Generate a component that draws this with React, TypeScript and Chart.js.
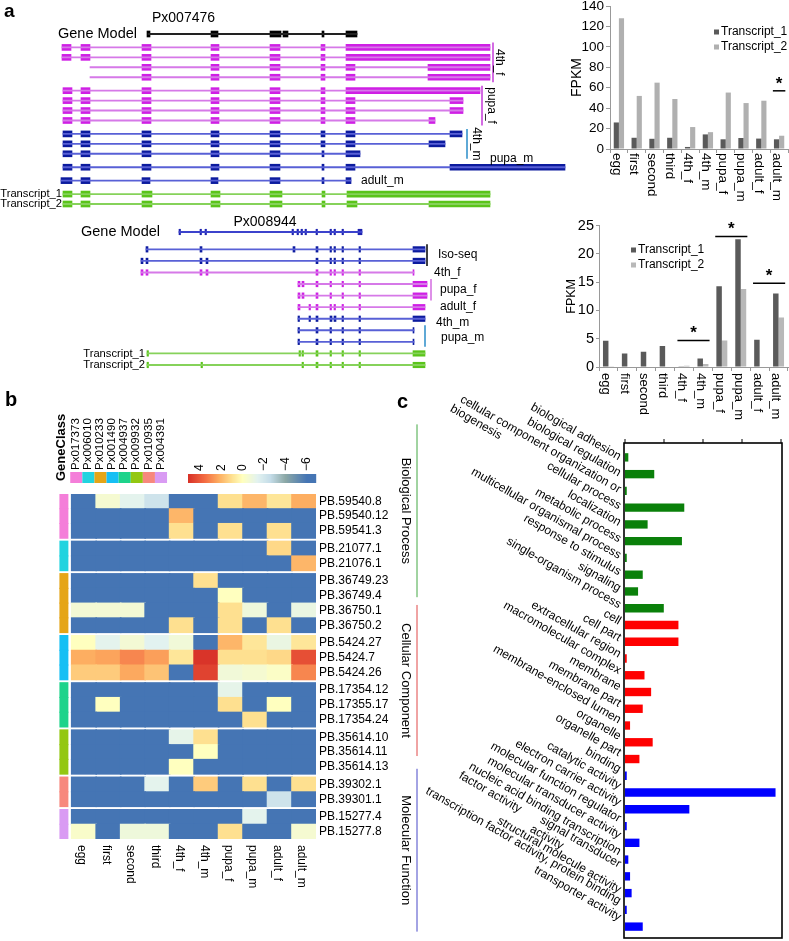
import React, { useEffect, useRef } from 'react';
import { Chart, registerables } from 'chart.js';
Chart.register(...registerables);

const FONT = '"Liberation Sans", Arial, Helvetica, sans-serif';
Chart.defaults.font.family = FONT;
Chart.defaults.color = '#000';

// ---------------- data: panel a bar charts ----------------
const stages = ['egg', 'first', 'second', 'third', '4th_f', '4th_m', 'pupa_f', 'pupa_m', 'adult_f', 'adult_m'];
const seriesNames = ['Transcript_1', 'Transcript_2'];
const px007476Transcript1 = [26, 11, 10, 11, 2, 14.3, 9.5, 10.8, 10.2, 9.5];
const px007476Transcript2 = [128, 52, 65, 49, 21.5, 16.5, 55.3, 45, 47.3, 13];
const px007476Sig = [{ from: 'adult_m', to: 'adult_m', value: 57 }];
const px008944Transcript1 = [4.65, 2.4, 2.7, 3.7, 0.05, 1.5, 14.3, 22.6, 4.8, 13];
const px008944Transcript2 = [0.05, 0.1, 0.1, 0.1, 0.2, 0.55, 4.7, 13.8, 0.1, 8.75];
const px008944Sig = [
  { from: '4th_f', to: '4th_m', value: 4.7 },
  { from: 'pupa_f', to: 'pupa_m', value: 23.1 },
  { from: 'adult_f', to: 'adult_m', value: 14.8 },
];

// ---------------- data: gene models (gene coordinate units) ----------------
type Exon = [number, number];
type Track = { name: string; group: string; kind: string; span: Exon; exons: Exon[] };

const px007476Tracks: Track[] = [
  { name: '', group: 'model', kind: 'model', span: [148, 357], exons: [[147, 150], [211, 218], [270, 281], [283, 288], [322, 324], [346, 357]] },
  { name: '', group: '4th_f', kind: 'female', span: [62, 490], exons: [[62, 71], [81, 90], [142, 151], [211, 219], [270, 280], [321, 325], [346, 490]] },
  { name: '', group: '4th_f', kind: 'female', span: [62, 490], exons: [[62, 71], [81, 90], [142, 151], [211, 219], [270, 280], [321, 325], [346, 490]] },
  { name: '', group: '4th_f', kind: 'female', span: [90, 490], exons: [[142, 151], [211, 219], [270, 280], [321, 325], [346, 355], [428, 490]] },
  { name: '', group: '4th_f', kind: 'female', span: [90, 490], exons: [[142, 151], [211, 219], [270, 280], [321, 325], [346, 355], [428, 490]] },
  { name: '', group: 'pupa_f', kind: 'female', span: [63, 480], exons: [[63, 72], [81, 90], [142, 151], [211, 219], [270, 280], [321, 325], [346, 480]] },
  { name: '', group: 'pupa_f', kind: 'female', span: [63, 463], exons: [[63, 72], [81, 90], [142, 151], [211, 219], [270, 280], [321, 325], [346, 355], [450, 463]] },
  { name: '', group: 'pupa_f', kind: 'female', span: [63, 463], exons: [[63, 72], [81, 90], [142, 151], [211, 219], [270, 280], [321, 325], [346, 355], [450, 463]] },
  { name: '', group: 'pupa_f', kind: 'female', span: [63, 435], exons: [[63, 72], [81, 90], [142, 151], [211, 219], [270, 280], [321, 325], [346, 355], [429, 435]] },
  { name: '', group: '4th_m', kind: 'male', span: [63, 462], exons: [[63, 72], [81, 90], [142, 151], [211, 219], [270, 280], [321, 325], [346, 355], [450, 462]] },
  { name: '', group: '4th_m', kind: 'male', span: [63, 445], exons: [[63, 72], [81, 90], [142, 151], [211, 219], [270, 280], [321, 325], [346, 355], [429, 445]] },
  { name: '', group: '4th_m', kind: 'male', span: [63, 360], exons: [[63, 72], [81, 90], [142, 151], [211, 219], [270, 280], [322, 324], [346, 360]] },
  { name: '', group: 'pupa_m', kind: 'male', span: [63, 565], exons: [[63, 72], [81, 90], [142, 151], [211, 219], [270, 280], [322, 324], [346, 355], [450, 565]] },
  { name: '', group: 'adult_m', kind: 'male', span: [61, 351], exons: [[61, 72], [81, 90], [142, 150], [211, 218], [270, 280], [322, 324], [346, 351]] },
  { name: 'Transcript_1', group: 'tx', kind: 'transcript', span: [63, 490], exons: [[63, 72], [81, 90], [142, 152], [211, 220], [270, 282], [322, 325], [347, 490]] },
  { name: 'Transcript_2', group: 'tx', kind: 'transcript', span: [63, 490], exons: [[63, 72], [81, 90], [142, 152], [211, 220], [270, 282], [322, 325], [347, 357], [429, 490]] },
];

const px008944Tracks: Track[] = [
  { name: '', group: 'model', kind: 'modelBlue', span: [179, 362], exons: [[179, 180.5], [200, 201.5], [205, 206.5], [292, 293.5], [297, 298.5], [301, 302.5], [305, 306.5], [316, 317.5], [330, 331.5], [334, 335.5], [342, 343.5], [358, 362]] },
  { name: '', group: 'Iso-seq', kind: 'male', span: [146, 425], exons: [[146, 148], [200, 202], [293, 295], [316, 318], [330, 331.5], [334, 335.5], [342, 343.5], [359, 360.5], [413, 425]] },
  { name: '', group: 'Iso-seq', kind: 'male', span: [141, 425], exons: [[141, 143], [146, 148], [200, 202], [206, 208], [316, 318], [330, 331.5], [334, 335.5], [342, 343.5], [359, 360.5], [413, 425]] },
  { name: '', group: '4th_f', kind: 'female', span: [141, 414], exons: [[141, 143], [146, 148], [200, 202], [206, 208], [316, 318], [330, 331.5], [334, 335.5], [342, 343.5], [359, 360.5], [413, 414]] },
  { name: '', group: 'pupa_f', kind: 'female', span: [298, 427], exons: [[298, 300], [302, 304], [316, 318], [330, 331.5], [342, 343.5], [359, 360.5], [413, 427]] },
  { name: '', group: 'pupa_f', kind: 'female', span: [298, 427], exons: [[298, 300], [302, 304], [316, 318], [330, 331.5], [342, 343.5], [359, 360.5], [413, 427]] },
  { name: '', group: 'adult_f', kind: 'female', span: [298, 425], exons: [[298, 300], [309, 310.5], [316, 318], [330, 331.5], [334, 335.5], [342, 343.5], [359, 360.5], [413, 425]] },
  { name: '', group: '4th_m', kind: 'male', span: [298, 425], exons: [[298, 299.5], [309, 310.5], [316, 318], [330, 332], [334, 336], [342, 343.5], [359, 360.5], [413, 425]] },
  { name: '', group: 'pupa_m', kind: 'male', span: [298, 414], exons: [[298, 299.5], [316, 318], [330, 331.5], [342, 343.5], [359, 360.5], [413, 414]] },
  { name: '', group: 'pupa_m', kind: 'male', span: [298, 414], exons: [[298, 299.5], [316, 318], [330, 331.5], [342, 343.5], [359, 360.5], [413, 414]] },
  { name: 'Transcript_1', group: 'tx', kind: 'transcript', span: [147, 425], exons: [[147, 148.5], [299, 300.5], [302, 303.5], [316, 318], [330, 331.5], [342, 343.5], [359, 360.5], [413, 425]] },
  { name: 'Transcript_2', group: 'tx', kind: 'transcript', span: [147, 425], exons: [[147, 148.5], [201, 202.5], [302, 303.5], [316, 318], [330, 331.5], [342, 343.5], [359, 360.5], [413, 425]] },
];

// ---------------- data: heatmap ----------------
const hmRows = ['PB.59540.8', 'PB.59540.12', 'PB.59541.3', 'PB.21077.1', 'PB.21076.1', 'PB.36749.23', 'PB.36749.4', 'PB.36750.1', 'PB.36750.2', 'PB.5424.27', 'PB.5424.7', 'PB.5424.26', 'PB.17354.12', 'PB.17355.17', 'PB.17354.24', 'PB.35614.10', 'PB.35614.11', 'PB.35614.13', 'PB.39302.1', 'PB.39301.1', 'PB.15277.4', 'PB.15277.8'];
const hmRowClass = [0, 0, 0, 1, 1, 2, 2, 2, 2, 3, 3, 3, 4, 4, 4, 5, 5, 5, 6, 6, 7, 7];
const geneClasses = ['Px017373', 'Px006010', 'Px010233', 'Px001490', 'Px004937', 'Px009932', 'Px010935', 'Px004391'];
const hmValues = [
  [-6, -0.5, -1.3, -2.2, -6, -6, 1, 2, 0.8, 2.2],
  [-6, -6, -6, -6, 2, -6, -6, -6, -6, -6],
  [-6, -6, -6, -6, 1, -6, 1, -6, 1, -6],
  [-6, -6, -6, -6, -6, -6, -6, -6, 1.2, -6],
  [-6, -6, -6, -6, -6, -6, -6, -6, -6, 2],
  [-6, -6, -6, -6, -6, 1, -6, -6, -6, -6],
  [-6, -6, -6, -6, -6, -6, 0, -6, -6, -6],
  [-0.6, -0.6, -0.6, -6, -6, -6, 1, -0.8, -6, -1],
  [-6, -6, -6, -6, 1, -6, 1, -6, 1, -6],
  [0, -1.3, -0.6, -1.4, -0.7, -6, 2, 0.8, -1, 0.8],
  [2.2, 2.4, 3, 2.5, 0.8, 5, 1, 1, 1.2, 4.3],
  [1.5, 1.5, 2.3, 1.7, -6, 4.6, -0.7, -0.5, -0.2, 3],
  [-6, -6, -6, -6, -6, -6, -1.2, -6, -6, -6],
  [-6, 0, -6, -6, -6, -6, 1, -6, 0, -6],
  [-6, -6, -6, -6, -6, -6, -6, 1, -6, -6],
  [-6, -6, -6, -6, -1.2, 1, -6, -6, -6, -6],
  [-6, -6, -6, -6, -6, 0, -6, -6, -6, -6],
  [-6, -6, -6, -6, 0, -6, -6, -6, -6, -6],
  [-6, -6, -6, -1.3, -6, 1.5, -6, 1, -6, 1],
  [-6, -6, -6, -6, -6, -6, -6, -6, -2.2, -6],
  [-6, -6, -6, -6, -6, -6, -6, -1.3, -6, -6],
  [-0.3, -6, -0.8, -0.8, -6, -6, 1, -6, -6, -0.5],
];
const hmScaleTicks = [4, 2, 0, -2, -4, -6];

// ---------------- data: GO ----------------
const bpTerms = ['biological adhesion', 'biological regulation', 'cellular component organization or\nbiogenesis', 'cellular process', 'localization', 'metabolic process', 'multicellular organismal process', 'response to stimulus', 'signaling', 'single-organism process'];
const bpCounts = [0.85, 7.5, 0.45, 15.2, 5.8, 14.6, 0.45, 4.55, 3.35, 9.95];
const ccTerms = ['cell', 'cell part', 'extracellular region', 'macromolecular complex', 'membrane', 'membrane part', 'membrane-enclosed lumen', 'organelle', 'organelle part'];
const ccCounts = [13.7, 13.7, 0.45, 5.0, 6.7, 4.55, 1.3, 7.1, 3.7];
const mfTerms = ['binding', 'catalytic activity', 'electron carrier activity', 'molecular function regulator', 'molecular transducer activity', 'nucleic acid binding transcription\nfactor activity', 'signal transducer\nactivity', 'structural molecule activity', 'transcription factor activity, protein binding', 'transporter activity'];
const mfCounts = [0.45, 38.6, 16.5, 0.45, 3.7, 0.85, 1.3, 1.7, 0.45, 4.55];
const goTicks = [0, 10, 20, 30, 40];

// ---------------- helpers ----------------
function text(ctx: CanvasRenderingContext2D, s: string, x: number, y: number, o: any = {}) {
  ctx.save();
  ctx.translate(x, y);
  if (o.rot) ctx.rotate((o.rot * Math.PI) / 180);
  ctx.font = `${o.bold ? 'bold ' : ''}${o.size || 12}px ${FONT}`;
  ctx.fillStyle = o.color || '#000';
  ctx.textAlign = o.align || 'left';
  ctx.textBaseline = o.base || 'middle';
  ctx.fillText(s, 0, 0);
  ctx.restore();
}
function vline(ctx: CanvasRenderingContext2D, x: number, y1: number, y2: number, color: string, w = 1) {
  ctx.save();
  ctx.strokeStyle = color;
  ctx.lineWidth = w;
  ctx.beginPath();
  ctx.moveTo(x, y1);
  ctx.lineTo(x, y2);
  ctx.stroke();
  ctx.restore();
}

function ChartBox({ left, top, width, height, make }: any) {
  const ref = useRef<HTMLCanvasElement>(null);
  useEffect(() => {
    const c = new Chart(ref.current as HTMLCanvasElement, make());
    return () => c.destroy();
  }, []);
  return <canvas ref={ref} width={width} height={height} style={{ position: 'absolute', left, top, width, height }} />;
}

// ---------------- expression bar charts ----------------
function barConfig(p: any) {
  const annot = {
    id: 'annot',
    afterDraw(chart: any) {
      const { ctx, chartArea } = chart;
      const xs = chart.scales.x, ys = chart.scales.y;
      const w = xs.getPixelForValue(1) - xs.getPixelForValue(0);
      stages.forEach((s, i) => text(ctx, s, xs.getPixelForValue(i) - 2.5, chartArea.bottom + p.labelGap, { size: p.labelSize, rot: 90 }));
      ['#5a5a5a', p.t2Color].forEach((c, i) => {
        ctx.fillStyle = c;
        ctx.fillRect(p.legend.x, p.legend.y + i * p.legend.dy - 2.5, 5, 5);
        text(ctx, seriesNames[i], p.legend.x + 7, p.legend.y + i * p.legend.dy, { size: 12 });
      });
      p.sig.forEach((s: any) => {
        const x1 = xs.getPixelForValue(stages.indexOf(s.from)) - 0.35 * w;
        const x2 = xs.getPixelForValue(stages.indexOf(s.to)) + 0.35 * w;
        const y = ys.getPixelForValue(s.value);
        ctx.save();
        ctx.strokeStyle = '#000';
        ctx.lineWidth = 1.5;
        ctx.beginPath();
        ctx.moveTo(x1, y);
        ctx.lineTo(x2, y);
        ctx.stroke();
        ctx.restore();
        text(ctx, '*', (x1 + x2) / 2, y - 7, { size: 17, bold: true, align: 'center' });
      });
    },
  };
  return {
    type: 'bar',
    data: {
      labels: stages,
      datasets: [
        { label: seriesNames[0], data: p.t1, backgroundColor: '#5a5a5a', categoryPercentage: 0.58, barPercentage: 1 },
        { label: seriesNames[1], data: p.t2, backgroundColor: p.t2Color, categoryPercentage: 0.58, barPercentage: 1 },
      ],
    },
    options: {
      animation: false,
      responsive: false,
      layout: { padding: { left: 0, right: 1, top: 0, bottom: 0 } },
      plugins: { legend: { display: false }, tooltip: { enabled: false } },
      scales: {
        x: {
          grid: { display: true, drawOnChartArea: false, tickLength: 4, color: '#999' },
          border: { color: '#999' },
          ticks: { display: false },
          afterFit: (s: any) => { s.height = p.xHeight; },
        },
        y: {
          min: 0,
          max: p.max,
          ticks: { stepSize: p.step, font: { size: p.tickSize }, color: '#000', padding: 2 },
          grid: { drawOnChartArea: false, tickLength: p.tickLen, color: '#999' },
          border: { color: '#999' },
          title: { display: true, text: 'FPKM', font: { size: p.titleSize }, color: '#000', padding: { top: p.titlePad, bottom: 0 } },
          afterFit: (s: any) => { s.width = p.yWidth; },
        },
      },
    },
    plugins: [annot],
  };
}

// ---------------- gene model charts ----------------
const kindColors: any = {
  model: { exon: '#000000', line: '#222222' },
  modelBlue: { exon: '#1d22b0', line: '#3c43cc' },
  female: { exon: '#cf1fe5', line: '#d679e8' },
  male: { exon: '#0c1b9e', line: '#5860d6' },
  transcript: { exon: '#5ac41a', line: '#86d25a' },
};

function geneConfig(tracks: Track[], p: any) {
  const lanes: number[] = [];
  let lane = 0;
  tracks.forEach((t, i) => {
    if (i > 0) {
      lane += 1;
      if (t.group !== tracks[i - 1].group) lane += tracks[i - 1].group === 'model' ? p.modelGap : p.groupGap;
    }
    lanes.push(lane);
  });
  const last = lanes[lanes.length - 1];
  const ppl = (p.lastPx - p.firstPx) / last;
  const yMin = -p.firstPx / ppl;
  const yMax = yMin + p.height / ppl;
  const introns = tracks.map((t, i) => ({ x: t.span, y: lanes[i], c: kindColors[t.kind].line }));
  const exons: any[] = [];
  tracks.forEach((t, i) => t.exons.forEach((e) => exons.push({ x: e, y: lanes[i], c: kindColors[t.kind].exon })));

  const annot = {
    id: 'geneAnnot',
    afterDraw(chart: any) {
      const { ctx } = chart;
      const xs = chart.scales.x, ys = chart.scales.y;
      if (p.letter) text(ctx, p.letter, 4, 12, { size: 19, bold: true });
      p.ann.forEach((a: any) => {
        const rows = tracks.map((t, i) => (t.group === a.key || t.name === a.key ? i : -1)).filter((i) => i >= 0);
        const y1 = ys.getPixelForValue(lanes[rows[0]]);
        const y2 = ys.getPixelForValue(lanes[rows[rows.length - 1]]);
        const cy = (y1 + y2) / 2 + (a.dy || 0);
        if (a.bracket) vline(ctx, xs.getPixelForValue(a.bracket.x), y1 - 5, y2 + 5, a.bracket.color, 1.5);
        text(ctx, a.text, xs.getPixelForValue(a.x), cy, {
          size: a.size || 12,
          align: a.rot ? 'center' : a.align || 'left',
          rot: a.rot || 0,
        });
      });
    },
  };

  return {
    type: 'bar',
    data: {
      datasets: [
        { data: introns, barThickness: 1.2, backgroundColor: (c: any) => (c.raw ? c.raw.c : '#000'), stack: 's', borderWidth: 0 },
        { data: exons, barThickness: p.exonH, backgroundColor: (c: any) => (c.raw ? c.raw.c : '#000'), stack: 's', borderWidth: 0 },
      ],
    },
    options: {
      indexAxis: 'y',
      animation: false,
      responsive: false,
      layout: { padding: 0 },
      plugins: { legend: { display: false }, tooltip: { enabled: false } },
      scales: {
        x: { type: 'linear', min: 0, max: p.width, display: false, stacked: false },
        y: { type: 'linear', min: yMin, max: yMax, reverse: true, display: false, stacked: true, offset: false },
      },
    },
    plugins: [annot],
  };
}

const ann1 = [
  { key: 'model', text: 'Gene Model', x: 137, align: 'right', size: 14.5 },
  { key: 'model', text: 'Px007476', x: 152, dy: -16, size: 14 },
  { key: '4th_f', text: '4th_f', x: 499, rot: 90, bracket: { x: 493, color: '#c43ad8' } },
  { key: 'pupa_f', text: 'pupa_f', x: 491, rot: 90, bracket: { x: 482, color: '#c43ad8' } },
  { key: '4th_m', text: '4th_m', x: 476, rot: 90, bracket: { x: 467, color: '#2a8cc8' } },
  { key: 'pupa_m', text: 'pupa_m', x: 490, dy: -9 },
  { key: 'adult_m', text: 'adult_m', x: 361 },
  { key: 'Transcript_1', text: 'Transcript_1', x: 62, align: 'right', size: 11.2 },
  { key: 'Transcript_2', text: 'Transcript_2', x: 62, align: 'right', size: 11.2 },
];
const ann2 = [
  { key: 'model', text: 'Gene Model', x: 160, align: 'right', size: 14.5 },
  { key: 'model', text: 'Px008944', x: 265, dy: -10, size: 14, align: 'center' },
  { key: 'Iso-seq', text: 'Iso-seq', x: 438, bracket: { x: 427, color: '#000' } },
  { key: '4th_f', text: '4th_f', x: 434 },
  { key: 'pupa_f', text: 'pupa_f', x: 440, bracket: { x: 431, color: '#d36be0' } },
  { key: 'adult_f', text: 'adult_f', x: 440 },
  { key: '4th_m', text: '4th_m', x: 436, dy: 4 },
  { key: 'pupa_m', text: 'pupa_m', x: 441, dy: 2, bracket: { x: 425, color: '#2a8cc8' } },
  { key: 'Transcript_1', text: 'Transcript_1', x: 145, align: 'right', size: 11.2 },
  { key: 'Transcript_2', text: 'Transcript_2', x: 145, align: 'right', size: 11.2 },
];

// ---------------- heatmap ----------------
const classColors = ['#f47ed9', '#22d3df', '#e5a517', '#16bff4', '#1ed38b', '#93c712', '#f7887d', '#d99bf3'];
const cmapStops: [number, number[]][] = [
  [5.1, [215, 48, 39]],
  [3.5, [244, 109, 67]],
  [2.2, [253, 174, 97]],
  [1.0, [254, 224, 144]],
  [0, [255, 255, 191]],
  [-1.4, [226, 242, 240]],
  [-2.6, [196, 220, 232]],
  [-4.0, [140, 168, 166]],
  [-6.0, [69, 117, 180]],
  [-6.9, [69, 117, 180]],
];
const CB_MAX = 5.1, CB_MIN = -6.85;
function cmap(v: number) {
  if (v >= cmapStops[0][0]) return `rgb(${cmapStops[0][1].join(',')})`;
  for (let i = 0; i < cmapStops.length - 1; i++) {
    const [a, ca] = cmapStops[i];
    const [b, cb] = cmapStops[i + 1];
    if (v <= a && v >= b) {
      const t = (a - v) / (a - b);
      return `rgb(${ca.map((x, k) => Math.round(x + (cb[k] - x) * t)).join(',')})`;
    }
  }
  return `rgb(${cmapStops[cmapStops.length - 1][1].join(',')})`;
}

function heatmapConfig() {
  const GAP = 0.2;
  const lanes = hmRowClass.map((g, i) => i + g * GAP);
  const yMin = -0.5, yMax = lanes[lanes.length - 1] + 0.5;
  const plotH = 345;
  const rowPx = plotH / (yMax - yMin);
  const cells: any[] = [];
  hmValues.forEach((row, r) => row.forEach((v, c) => cells.push({ x: [c, c + 1.04], y: lanes[r], c: cmap(v) })));
  const classBars = hmRowClass.map((g, r) => ({ x: [-0.47, -0.13], y: lanes[r], c: classColors[g] }));
  const annot = {
    id: 'hmAnnot',
    afterDraw(chart: any) {
      const { ctx, chartArea } = chart;
      const xs = chart.scales.x, ys = chart.scales.y;
      text(ctx, 'b', 5, 10, { size: 20, bold: true });
      hmRows.forEach((r, i) => text(ctx, r, chartArea.right + 3, ys.getPixelForValue(lanes[i]), { size: 12 }));
      stages.forEach((s, c) => text(ctx, s, xs.getPixelForValue(c + 0.5) - 2, chartArea.bottom + 6, { size: 12, rot: 90 }));
      const sqL = xs.getPixelForValue(0) - 1, sqW = 12.1;
      geneClasses.forEach((g, k) => {
        ctx.fillStyle = classColors[k];
        ctx.fillRect(sqL + k * sqW, 82, sqW, 11);
        text(ctx, g, sqL + k * sqW + sqW / 2 - 0.5, 80, { size: 11.5, rot: -90 });
      });
      text(ctx, 'GeneClass', 61, 91, { size: 13, bold: true, rot: -90 });
      const cbL = 188, cbW = 128;
      for (let i = 0; i < cbW; i++) {
        ctx.fillStyle = cmap(CB_MAX - ((i + 0.5) / cbW) * (CB_MAX - CB_MIN));
        ctx.fillRect(cbL + i, 84, 1.2, 9);
      }
      hmScaleTicks.forEach((v) => {
        const x = cbL + ((CB_MAX - v) / (CB_MAX - CB_MIN)) * cbW;
        text(ctx, v < 0 ? '\u2212' + Math.abs(v) : String(v), x, 81, { size: 12, rot: -90 });
      });
    },
  };
  return {
    type: 'bar',
    data: {
      datasets: [
        { data: cells, barThickness: rowPx + 0.4, backgroundColor: (c: any) => (c.raw ? c.raw.c : '#000'), stack: 's', borderWidth: 0 },
        { data: classBars, barThickness: rowPx + 0.4, backgroundColor: (c: any) => (c.raw ? c.raw.c : '#000'), stack: 's', borderWidth: 0 },
      ],
    },
    options: {
      indexAxis: 'y',
      animation: false,
      responsive: false,
      layout: { padding: { left: 59, right: 84, top: 104, bottom: 61 } },
      plugins: { legend: { display: false }, tooltip: { enabled: false } },
      scales: {
        x: { type: 'linear', min: -0.5, max: 10, display: false, stacked: false },
        y: { type: 'linear', min: yMin, max: yMax, reverse: true, display: false, stacked: true, offset: false },
      },
    },
    plugins: [annot],
  };
}

// ---------------- GO chart ----------------
function goConfig() {
  const terms = [...bpTerms, ...ccTerms, ...mfTerms];
  const counts = [...bpCounts, ...ccCounts, ...mfCounts];
  const groups = [
    { name: 'Biological Process', n: bpTerms.length, bar: '#0a800a', line: '#44a844' },
    { name: 'Cellular Component', n: ccTerms.length, bar: '#ff0000', line: '#e04848' },
    { name: 'Molecular Function', n: mfTerms.length, bar: '#0000ff', line: '#4848c8' },
  ];
  const colors: string[] = [];
  groups.forEach((g) => { for (let i = 0; i < g.n; i++) colors.push(g.bar); });
  const annot = {
    id: 'goAnnot',
    afterDraw(chart: any) {
      const { ctx, chartArea: a } = chart;
      const xs = chart.scales.x, ys = chart.scales.y;
      text(ctx, 'c', 7, 12, { size: 20, bold: true });
      ctx.save();
      ctx.strokeStyle = '#000';
      ctx.lineWidth = 1.6;
      ctx.strokeRect(a.left - 1, a.top - 6, a.right - a.left + 2, a.bottom - a.top + 9);
      ctx.restore();
      goTicks.forEach((v) => vline(ctx, xs.getPixelForValue(v), a.top - 6, a.top - 10, '#000', 1));

      ctx.save();
      ctx.font = `12px ${FONT}`;
      const widths = terms.map((t) => t.split('\n').map((l) => ctx.measureText(l).width));
      ctx.restore();
      const shift = terms.map(() => 0);
      widths.forEach((ws, i) => {
        if (ws.length > 1) {
          const next = widths[i + 1];
          if (next && next.length === 1 && next[0] > ws[0] + 12 - ws[1]) {
            shift[i] -= 4;
            shift[i + 1] += 5;
          }
        }
      });

      terms.forEach((t, i) => {
        const cy = ys.getPixelForValue(i) - 0.3 * i + shift[i];
        const lines = t.split('\n');
        ctx.save();
        ctx.translate(a.left - 5, cy);
        ctx.rotate(Math.PI / 6);
        ctx.font = `12px ${FONT}`;
        ctx.fillStyle = '#000';
        ctx.textBaseline = 'middle';
        ctx.textAlign = 'right';
        ctx.fillText(lines[0], 0, 0);
        if (lines[1]) {
          ctx.textAlign = 'left';
          ctx.fillText(lines[1], -widths[i][0] - 4, 13);
        }
        ctx.restore();
      });
      let start = 0;
      groups.forEach((g, gi) => {
        const first = ys.getPixelForValue(start);
        const last = ys.getPixelForValue(start + g.n - 1);
        const top = first - 33 + 13 * gi;
        const bottom = last - 11 + 8 * gi;
        vline(ctx, 27, top, bottom, g.line, 1);
        text(ctx, g.name, 16, (top + bottom) / 2, { size: 13, rot: 90, align: 'center' });
        start += g.n;
      });
    },
  };
  return {
    type: 'bar',
    data: { labels: terms, datasets: [{ data: counts, backgroundColor: colors, barPercentage: 0.5, categoryPercentage: 1 }] },
    options: {
      indexAxis: 'y',
      animation: false,
      responsive: false,
      layout: { padding: { left: 235, right: 8, top: 59, bottom: 6 } },
      plugins: { legend: { display: false }, tooltip: { enabled: false } },
      scales: {
        x: { min: 0, max: 40, display: false },
        y: { display: false },
      },
    },
    plugins: [annot],
  };
}

export default function App() {
  return (
    <div style={{ position: 'absolute', left: 0, top: 0, width: 789, height: 941, background: '#fff', overflow: 'hidden' }}>
      <ChartBox left={0} top={0} width={568} height={215}
        make={() => geneConfig(px007476Tracks, { width: 568, height: 215, firstPx: 34, lastPx: 204, modelGap: 0.35, groupGap: 0.35, exonH: 6, ann: ann1, letter: 'a' })} />
      <ChartBox left={0} top={213} width={568} height={160}
        make={() => geneConfig(px008944Tracks, { width: 568, height: 160, firstPx: 19, lastPx: 152, modelGap: 0.5, groupGap: 0, exonH: 5.5, ann: ann2 })} />
      <ChartBox left={560} top={-4} width={229} height={209}
        make={() => barConfig({ t1: px007476Transcript1, t2: px007476Transcript2, sig: px007476Sig, max: 140, step: 20, tickSize: 13.5, tickLen: 4, yWidth: 50, xHeight: 56, labelGap: 4, labelSize: 13.5, titleSize: 14, titlePad: 9, legend: { x: 154, y: 36, dy: 15 }, t2Color: '#b0b0b0' })} />
      <ChartBox left={560} top={215} width={229} height={212}
        make={() => barConfig({ t1: px008944Transcript1, t2: px008944Transcript2, sig: px008944Sig, max: 25, step: 5, tickSize: 14.5, tickLen: 3, yWidth: 39, xHeight: 60, labelGap: 6, labelSize: 13, titleSize: 12.5, titlePad: 4, legend: { x: 71, y: 35, dy: 15 }, t2Color: '#b8b8b8' })} />
      <ChartBox left={0} top={390} width={400} height={510} make={() => heatmapConfig()} />
      <ChartBox left={390} top={390} width={399} height={551} make={() => goConfig()} />
    </div>
  );
}
